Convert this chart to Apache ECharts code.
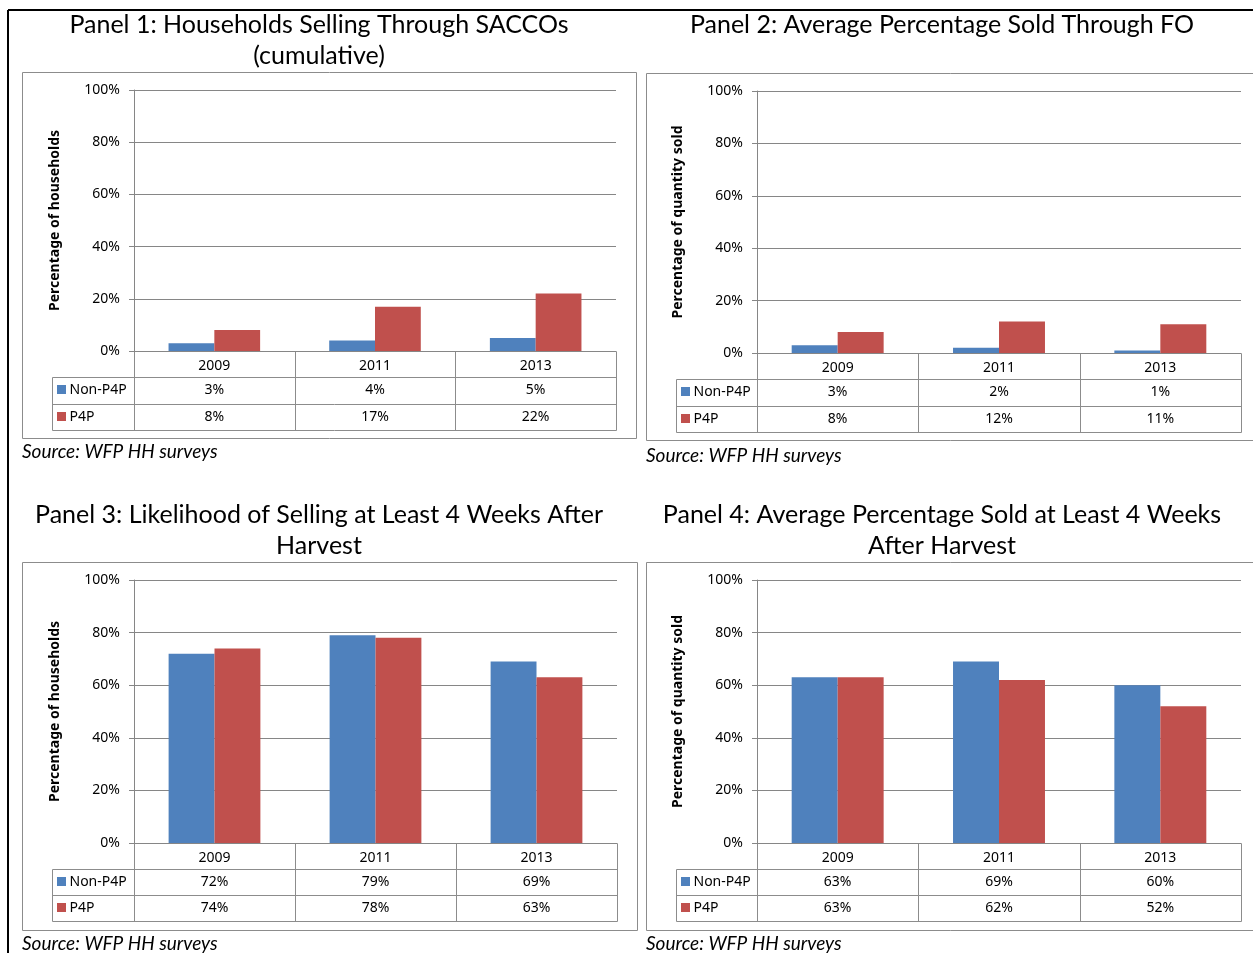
<!DOCTYPE html>
<html>
<head>
<meta charset="utf-8">
<script src="https://cdn.jsdelivr.net/npm/echarts@6/dist/echarts.min.js"></script>
<style>
  html, body { margin: 0; padding: 0; background: #fff; }
  #c { width: 1253px; height: 953px; }
</style>
</head>
<body>
<div id="c"></div>
<script>
// ---- data ----
const years = ['2009', '2011', '2013'];
const groupNames = ['Non-P4P', 'P4P'];

const saccoNonP4P = [3, 4, 5];
const saccoP4P = [8, 17, 22];

const foNonP4P = [3, 2, 1];
const foP4P = [8, 12, 11];

const lateSellNonP4P = [72, 79, 69];
const lateSellP4P = [74, 78, 63];

const lateShareNonP4P = [63, 69, 60];
const lateShareP4P = [63, 62, 52];

const panelTitles = [
  'Panel 1: Households Selling Through SACCOs\n(cumulative)',
  'Panel 2: Average Percentage Sold Through FO',
  'Panel 3: Likelihood of Selling at Least 4 Weeks After\nHarvest',
  'Panel 4: Average Percentage Sold at Least 4 Weeks\nAfter Harvest'
];
const axisTitles = [
  'Percentage of households',
  'Percentage of quantity sold',
  'Percentage of households',
  'Percentage of quantity sold'
];
const sourceNote = 'Source: WFP HH surveys';

const panelData = [
  [saccoNonP4P, saccoP4P],
  [foNonP4P, foP4P],
  [lateSellNonP4P, lateSellP4P],
  [lateShareNonP4P, lateShareP4P]
];

// ---- layout ----
const colors = ['#4F81BD', '#C0504D'];
const gridColor = '#868686';
const textFont = 'Noto Sans';
const titleFont = 'Lato';

const panels = [
  { grid: { left: 134, top: 90, width: 482, height: 261 }, frame: [22, 72, 614, 366], titleX: 319, titleY: 4, sourceY: 452, rowH: 26.3, legendW: 82 },
  { grid: { left: 757, top: 91, width: 484, height: 262 }, frame: [646, 73, 612, 367], titleX: 942, titleY: 4, sourceY: 456, rowH: 26.3, legendW: 81 },
  { grid: { left: 134, top: 580, width: 483, height: 263 }, frame: [22, 562, 615, 368], titleX: 319, titleY: 494, sourceY: 944, rowH: 26, legendW: 82 },
  { grid: { left: 757, top: 580, width: 484, height: 263 }, frame: [646, 562, 612, 368], titleX: 942, titleY: 494, sourceY: 944, rowH: 26, legendW: 81 }
];

const option = {
  animation: false,
  backgroundColor: '#fff',
  title: panels.map((p, i) => ({
    text: panelTitles[i],
    left: p.titleX - 5,
    top: p.titleY,
    textAlign: 'center',
    textStyle: { fontFamily: titleFont, fontSize: 25, fontWeight: 'normal', color: '#000', lineHeight: 31 }
  })),
  grid: panels.map(p => Object.assign({ containLabel: false }, p.grid)),
  xAxis: panels.map((p, i) => ({
    type: 'category',
    gridIndex: i,
    data: years,
    axisLine: { show: true, lineStyle: { color: gridColor, width: 1 } },
    axisTick: { show: false },
    axisLabel: { margin: 8, fontFamily: textFont, fontSize: 14, color: '#000' }
  })),
  yAxis: panels.map((p, i) => ({
    type: 'value',
    gridIndex: i,
    min: 0,
    max: 100,
    interval: 20,
    name: axisTitles[i],
    nameLocation: 'middle',
    nameRotate: 90,
    nameGap: 72,
    nameTextStyle: { fontFamily: textFont, fontSize: 14, fontWeight: 'bold', color: '#000' },
    axisLine: { show: true, lineStyle: { color: gridColor, width: 1 } },
    axisTick: { show: true, inside: false, length: 5, lineStyle: { color: gridColor } },
    splitLine: { show: true, lineStyle: { color: gridColor, width: 1 } },
    axisLabel: { margin: 14, fontFamily: textFont, fontSize: 14, color: '#000', formatter: '{value}%' }
  })),
  series: []
};

panels.forEach((p, i) => {
  groupNames.forEach((name, s) => {
    option.series.push({
      type: 'bar',
      name: name,
      xAxisIndex: i,
      yAxisIndex: i,
      data: panelData[i][s],
      barGap: '0%',
      barCategoryGap: '43%',
      itemStyle: { color: colors[s] }
    });
  });
});

const chart = echarts.init(document.getElementById('c'), null, { renderer: 'canvas' });
chart.setOption(option);

// ---- data tables, frames and notes ----
const tableColor = '#8c8c8c';
const graphics = [];
const line = (x1, y1, x2, y2, color, w) => graphics.push({
  type: 'line', silent: true,
  shape: { x1, y1, x2, y2 },
  style: { stroke: color, lineWidth: w || 1 }
});

// outer document border
line(8, 10, 1253, 10, '#000', 2);
line(8, 10, 8, 953, '#000', 2);

panels.forEach((p, i) => {
  const f = p.frame;
  graphics.push({
    type: 'rect', silent: true,
    shape: { x: f[0] + 0.5, y: f[1] + 0.5, width: f[2], height: f[3] },
    style: { fill: null, stroke: tableColor, lineWidth: 1 }
  });

  const x0 = p.grid.left + 0.5;
  const x1 = p.grid.left + p.grid.width + 0.5;
  const yTop = p.grid.top + p.grid.height;
  const rh = p.rowH;
  const lx = p.grid.left - p.legendW + 0.5;
  const band = p.grid.width / years.length;

  // horizontal rules
  line(x0, Math.round(yTop + rh) + 0.5, x1, Math.round(yTop + rh) + 0.5, tableColor);
  line(lx, Math.round(yTop + rh) + 0.5, x0, Math.round(yTop + rh) + 0.5, tableColor);
  line(lx, Math.round(yTop + 2 * rh) + 0.5, x1, Math.round(yTop + 2 * rh) + 0.5, tableColor);
  line(lx, Math.round(yTop + 3 * rh) + 0.5, x1, Math.round(yTop + 3 * rh) + 0.5, tableColor);
  // vertical rules
  line(lx, Math.round(yTop + rh) + 0.5, lx, Math.round(yTop + 3 * rh) + 0.5, tableColor);
  for (let k = 0; k <= years.length; k++) {
    const xx = Math.round(p.grid.left + k * band) + 0.5;
    line(xx, yTop + 0.5, xx, Math.round(yTop + 3 * rh) + 0.5, tableColor);
  }

  // row headers with swatches
  groupNames.forEach((name, s) => {
    const cy = yTop + rh * (1.5 + s);
    graphics.push({
      type: 'rect', silent: true,
      shape: { x: lx + 4.5, y: Math.round(cy - 5), width: 9, height: 9 },
      style: { fill: colors[s] }
    });
    graphics.push({
      type: 'text', silent: true,
      style: { x: lx + 17, y: cy, text: name, fontFamily: textFont, fontSize: 14, fill: '#000', textVerticalAlign: 'middle', textAlign: 'left' }
    });
    // cell values
    years.forEach((yr, k) => {
      const px = chart.convertToPixel({ xAxisIndex: i }, yr);
      graphics.push({
        type: 'text', silent: true,
        style: { x: px, y: cy, text: panelData[i][s][k] + '%', fontFamily: textFont, fontSize: 14, fill: '#000', textVerticalAlign: 'middle', textAlign: 'center' }
      });
    });
  });

  // source note
  graphics.push({
    type: 'text', silent: true,
    style: { x: f[0], y: p.sourceY, text: sourceNote, fontFamily: titleFont, fontStyle: 'italic', fontSize: 19, fill: '#000', textVerticalAlign: 'middle', textAlign: 'left' }
  });
});

chart.setOption({ graphic: graphics });
</script>
</body>
</html>
